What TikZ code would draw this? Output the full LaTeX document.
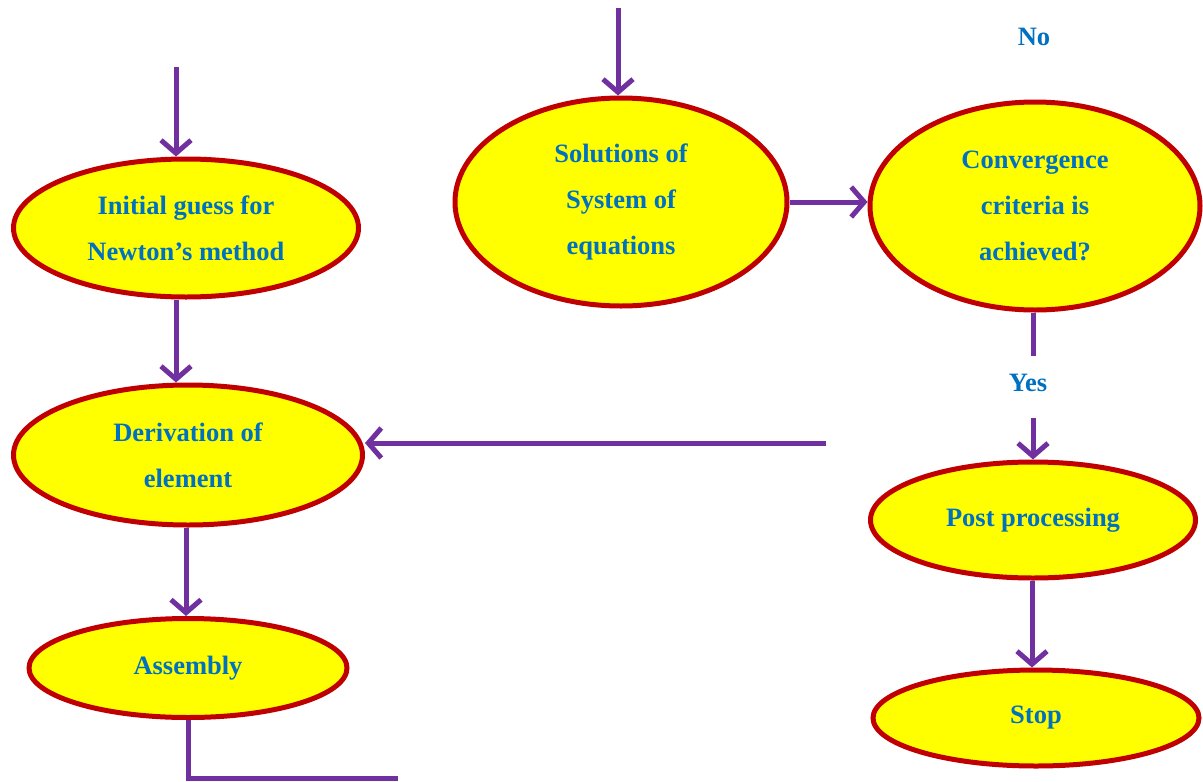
\documentclass[tikz,border=0pt]{standalone}
\usepackage{fontspec}
\setmainfont{Liberation Serif}
\usetikzlibrary{shapes.geometric,arrows.meta}
\definecolor{txtblue}{HTML}{0070C0}
\definecolor{arrpurple}{HTML}{7030A0}
\definecolor{rimred}{HTML}{C00000}
\definecolor{fillyel}{HTML}{FFFF00}
\begin{document}
\begin{tikzpicture}[x=1pt,y=-1pt,
  blob/.style={ellipse, draw=rimred, fill=fillyel, line width=5pt, inner sep=0pt,
    align=center, text=txtblue, font=\fontsize{26.5}{46}\selectfont\bfseries},
  lbl/.style={text=txtblue, font=\fontsize{26.5}{46}\selectfont\bfseries, inner sep=0pt},
  arr/.style={draw=arrpurple, line width=5pt, -{Straight Barb[length=13pt,width=30pt,line width=5pt]}},
  ln/.style={draw=arrpurple, line width=5pt}]
\useasboundingbox (0,0) rectangle (1203,782);
\node[blob, minimum width=345, minimum height=138] (init) at (186,228) {Initial guess for\\Newton’s method};
\node[blob, minimum width=332, minimum height=208] (sol) at (621,202) {Solutions of\\System of\\equations};
\node[blob, minimum width=330, minimum height=208] (conv) at (1035,206) {Convergence\\criteria is\\achieved?};
\node[blob, minimum width=349, minimum height=140] (deriv) at (188,455) {Derivation of\\element};
\node[blob, minimum width=318, minimum height=99] (asm) at (188,668) {Assembly};
\node[blob, minimum width=325, minimum height=116] (post) at (1033,520) {Post processing};
\node[blob, minimum width=326, minimum height=96] (stop) at (1036,718) {Stop};
\node[lbl] (no) at (1034,37) {No};
\node[lbl] (yes) at (1028,383) {Yes};
\coordinate (in1) at (176,67);
\coordinate (in2) at (618,8);
\coordinate (back) at (826,443);
\coordinate (yesTop) at (1033,356);
\coordinate (yesBot) at (1033,418);
\coordinate (outend) at (398,778);
\draw[arr] (in1) -- (in1 |- init.north);
\draw[arr] (in2) -- (in2 |- sol.north);
\draw[arr] (init.south -| in1) -- (in1 |- deriv.north);
\draw[arr] (sol.east) -- (sol.east -| conv.west);
\draw[ln] (conv.south -| yesTop) -- (yesTop);
\draw[arr] (yesBot) -- (yesBot |- post.north);
\draw[arr] (back) -- (back -| deriv.east);
\draw[arr] (deriv.south -| 186,0) -- (186,0 |- asm.north);
\draw[arr] (post.south -| 1032,0) -- (1032,0 |- stop.north);
\draw[ln] (asm.south) -- (asm.south |- outend) -- (outend);
\end{tikzpicture}
\end{document}
